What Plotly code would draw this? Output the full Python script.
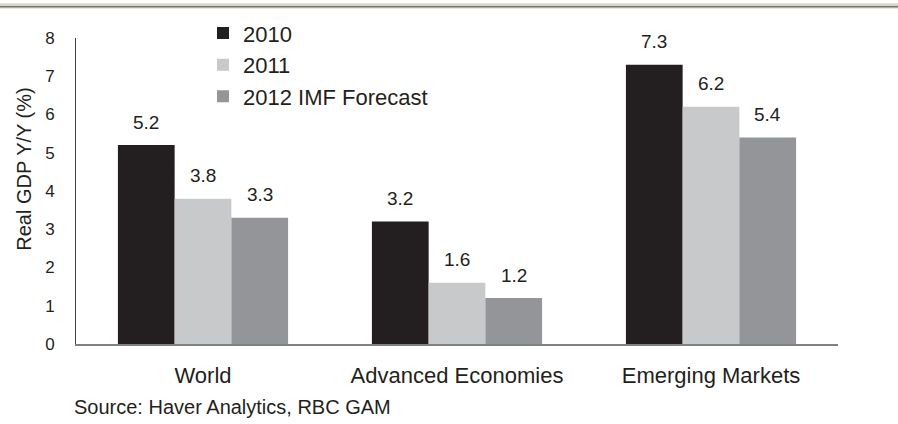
import plotly.graph_objects as go

categories = ["World", "Advanced Economies", "Emerging Markets"]
series_names = ["2010", "2011", "2012 IMF Forecast"]
values_2010 = [5.2, 3.2, 7.3]
values_2011 = [3.8, 1.6, 6.2]
values_2012 = [3.3, 1.2, 5.4]
series_values = [values_2010, values_2011, values_2012]
colors = ["#231f20", "#c8c9cb", "#939598"]
y_ticks = [0, 1, 2, 3, 4, 5, 6, 7, 8]

FONT = "Liberation Sans, Arial, sans-serif"
TXT = "#231f20"
W, H = 898, 424
ML, MR, MT, MB = 76, 60, 35, 80
PW = W - ML - MR
PH = H - MT - MB

def px_x(p):
    return (p - ML) / PW

def px_y(p):
    return (H - MB - p) / PH

fig = go.Figure()
for name, vals, col in zip(series_names, series_values, colors):
    fig.add_trace(go.Bar(
        x=categories, y=vals, name=name,
        marker=dict(color=col, line=dict(width=0)),
    ))

bargap = 0.33
bar_px = PW / len(categories) * (1 - bargap) / len(series_names)
for i, vals in enumerate(series_values):
    for c, v in zip(categories, vals):
        fig.add_annotation(
            x=c, y=v, text=f"{v:.1f}", showarrow=False,
            xshift=(i - 1) * bar_px, yshift=23, yanchor="middle",
            font=dict(family=FONT, size=19, color=TXT),
        )

# y-axis title
fig.add_annotation(
    xref="paper", yref="paper", x=px_x(24), y=px_y(168),
    text="Real GDP Y/Y (%)", textangle=-90, showarrow=False,
    xanchor="center", yanchor="middle",
    font=dict(family=FONT, size=20, color=TXT),
)
# source
fig.add_annotation(
    xref="paper", yref="paper", x=px_x(72), y=px_y(408),
    text="Source: Haver Analytics, RBC GAM", showarrow=False,
    xanchor="left", yanchor="middle",
    font=dict(family=FONT, size=20, color=TXT),
)

# top decorative band
fig.add_shape(type="rect", xref="paper", yref="paper",
              x0=px_x(0), x1=px_x(W), y0=px_y(3), y1=px_y(0),
              fillcolor="#ded4c4", line=dict(width=0), layer="above")
fig.add_shape(type="line", xref="paper", yref="paper",
              x0=px_x(0), x1=px_x(W), y0=px_y(3.5), y1=px_y(3.5),
              line=dict(color="#3c3c3c", width=1))
fig.add_shape(type="line", xref="paper", yref="paper",
              x0=px_x(0), x1=px_x(W), y0=px_y(4.5), y1=px_y(4.5),
              line=dict(color="#a5a5a5", width=1))

fig.update_layout(
    width=W, height=H,
    margin=dict(l=ML, r=MR, t=MT, b=MB, pad=0),
    paper_bgcolor="white", plot_bgcolor="white",
    barmode="group", bargap=bargap, bargroupgap=0,
    font=dict(family=FONT, size=17, color=TXT),
    showlegend=True,
    legend=dict(
        x=px_x(203), y=px_y(9), xanchor="left", yanchor="top",
        bgcolor="rgba(0,0,0,0)", font=dict(family=FONT, size=22, color=TXT),
        tracegroupgap=0,
    ),
    xaxis=dict(
        range=[-0.5, 2.5], showgrid=False, zeroline=False,
        showline=True, linecolor="#808080", linewidth=2,
        ticks="", ticklabelstandoff=11,
        tickfont=dict(family=FONT, size=22, color=TXT),
    ),
    yaxis=dict(
        range=[0, 8], tickvals=y_ticks, showgrid=False, zeroline=False,
        showline=True, linecolor="#404040", linewidth=1,
        ticks="", ticklabelstandoff=17,
        tickfont=dict(family=FONT, size=17, color=TXT),
    ),
)

fig.write_html("out.html")
